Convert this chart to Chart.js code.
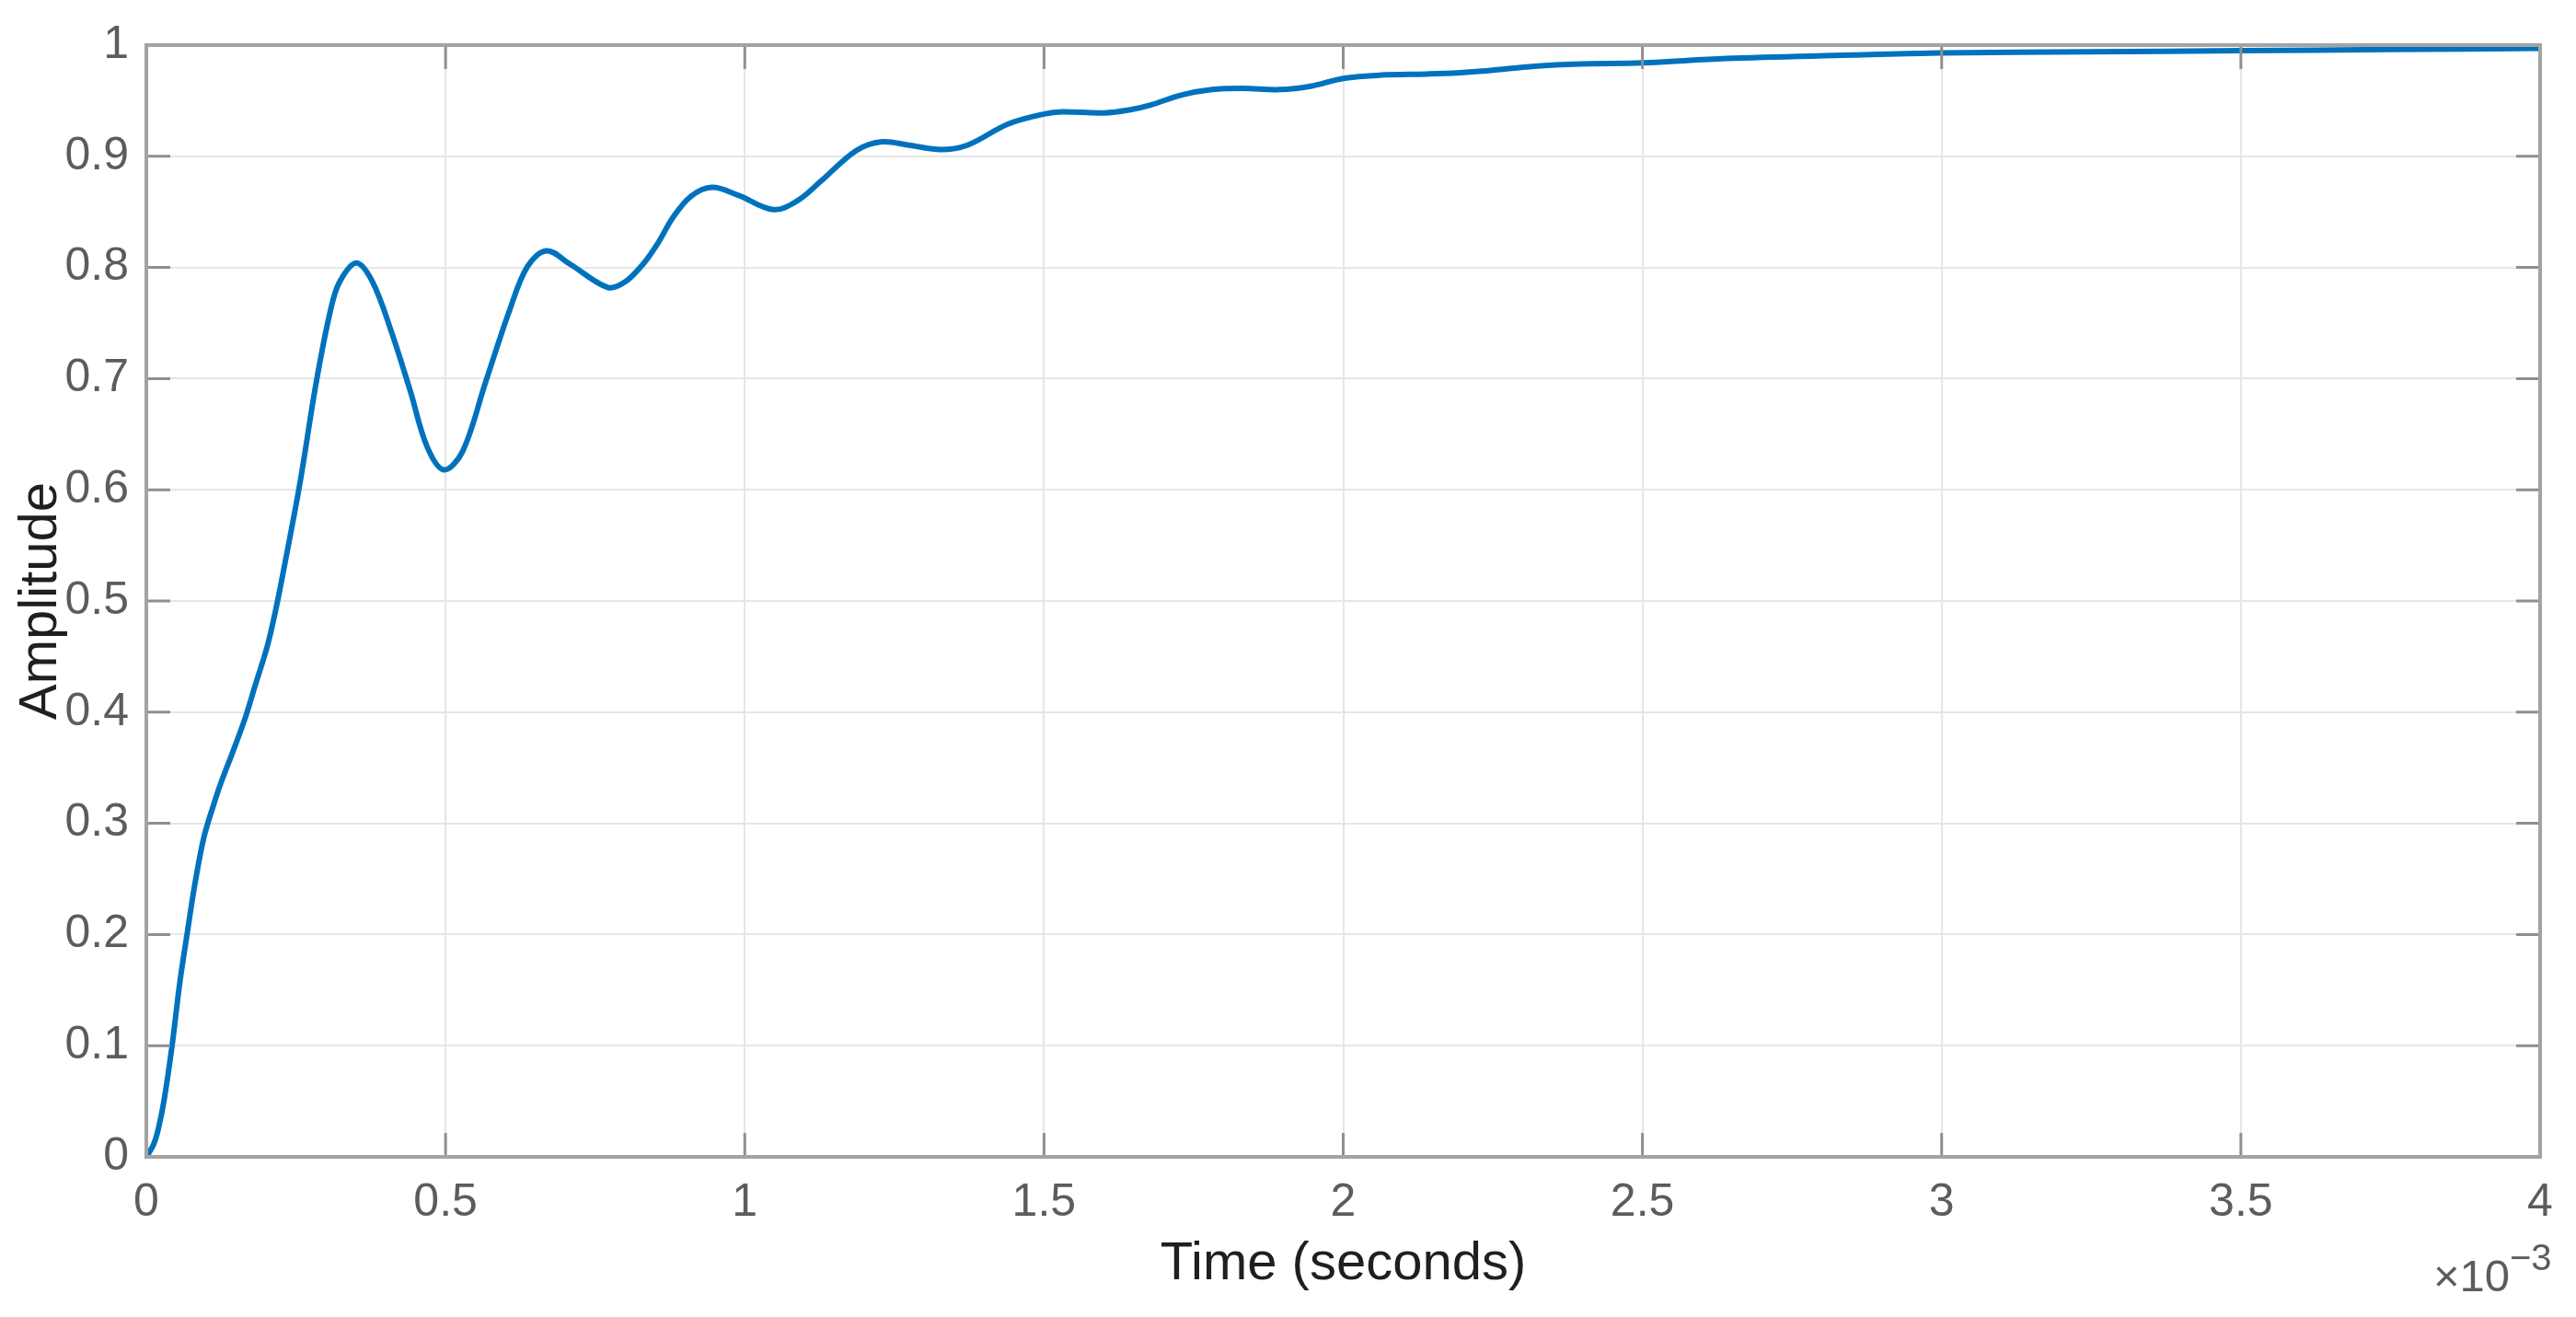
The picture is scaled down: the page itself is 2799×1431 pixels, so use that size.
<!DOCTYPE html>
<html>
<head>
<meta charset="utf-8">
<script src="https://cdn.jsdelivr.net/npm/chart.js@4.4.1/dist/chart.umd.min.js"></script>
<style>
  html, body { margin: 0; padding: 0; background: #fff; }
  #wrap { width: 2799px; height: 1431px; position: relative; }
</style>
</head>
<body>
<div id="wrap"><canvas id="stepChart"></canvas></div>
<script>
// step response, time in units of 1e-3 s
const timeMs = [
  0, 0.012, 0.02, 0.03, 0.043, 0.056, 0.068, 0.081, 0.096, 0.112,
  0.125, 0.145, 0.166, 0.183, 0.202, 0.217, 0.232, 0.257, 0.284, 0.308,
  0.323, 0.351, 0.378, 0.409, 0.441, 0.469, 0.497, 0.528, 0.567, 0.606,
  0.637, 0.669, 0.708, 0.771, 0.8, 0.83, 0.855, 0.88, 0.91, 0.945, 0.989,
  1.048, 1.088, 1.126, 1.186, 1.229, 1.274, 1.328, 1.372, 1.44, 1.5,
  1.53, 1.6, 1.646, 1.678, 1.729, 1.781, 1.832, 1.894, 1.945, 2.0,
  2.063, 2.14, 2.19, 2.243, 2.32, 2.397, 2.5, 2.64, 2.85, 3.0,
  3.25, 3.5, 3.75, 4.0
];
const amplitude = [
  0, 0.011, 0.025, 0.052, 0.1, 0.157, 0.2, 0.245, 0.287, 0.316,
  0.337, 0.365, 0.396, 0.426, 0.459, 0.494, 0.535, 0.607, 0.697, 0.762,
  0.787, 0.804, 0.787, 0.743, 0.689, 0.639, 0.618, 0.634, 0.697, 0.76,
  0.801, 0.815, 0.803, 0.782, 0.787, 0.803, 0.822, 0.845, 0.864, 0.872, 0.865,
  0.852, 0.86, 0.877, 0.905, 0.913, 0.91, 0.906, 0.91, 0.929, 0.938,
  0.94, 0.939, 0.942, 0.946, 0.955, 0.96, 0.961, 0.96, 0.963, 0.97,
  0.973, 0.974, 0.975, 0.977, 0.981, 0.983, 0.984, 0.988, 0.991, 0.993,
  0.994, 0.995, 0.996, 0.997
];
const xTicks = [0, 0.5, 1, 1.5, 2, 2.5, 3, 3.5, 4];
const yTicks = [0, 0.1, 0.2, 0.3, 0.4, 0.5, 0.6, 0.7, 0.8, 0.9, 1];

const FONT = "'Liberation Sans', Arial, Helvetica, sans-serif";
const TICK_COLOR = '#5c5c5c';
const LABEL_COLOR = '#1f1f1f';

// MATLAB style box, inward ticks on all four sides, and the x10^-3 exponent
const matlabAxes = {
  id: 'matlabAxes',
  afterDatasetsDraw(chart) {
    const { ctx, chartArea: a, scales: { x, y } } = chart;
    const len = 26;
    ctx.save();
    ctx.strokeStyle = '#8f8f8f';
    ctx.lineWidth = 3;
    ctx.beginPath();
    xTicks.forEach(v => {
      const px = x.getPixelForValue(v);
      ctx.moveTo(px, a.bottom); ctx.lineTo(px, a.bottom - len);
      ctx.moveTo(px, a.top); ctx.lineTo(px, a.top + len);
    });
    yTicks.forEach(v => {
      const py = y.getPixelForValue(v);
      ctx.moveTo(a.left, py); ctx.lineTo(a.left + len, py);
      ctx.moveTo(a.right, py); ctx.lineTo(a.right - len, py);
    });
    ctx.stroke();

    ctx.strokeStyle = '#a3a3a3';
    ctx.lineWidth = 4;
    ctx.strokeRect(a.left, a.top, a.right - a.left, a.bottom - a.top);

    // exponent label under the right end of the x axis
    ctx.fillStyle = TICK_COLOR;
    ctx.textBaseline = 'alphabetic';
    ctx.font = '49px ' + FONT;
    ctx.textAlign = 'right';
    ctx.fillText('\u00d710', a.right - 33, a.bottom + 146);
    ctx.font = '40px ' + FONT;
    ctx.textAlign = 'left';
    ctx.fillText('\u22123', a.right - 33, a.bottom + 123);
    ctx.restore();
  }
};

new Chart(document.getElementById('stepChart').getContext('2d'), {
  type: 'line',
  data: {
    datasets: [{
      label: 'Step response',
      data: timeMs.map((t, i) => ({ x: t, y: amplitude[i] })),
      borderColor: '#0072BD',
      borderWidth: 6,
      pointRadius: 0,
      fill: false,
      tension: 0.35
    }]
  },
  options: {
    responsive: true,
    maintainAspectRatio: false,
    animation: false,
    layout: { padding: { left: 0, top: 37, right: 39, bottom: 0 } },
    plugins: { legend: { display: false }, tooltip: { enabled: false } },
    scales: {
      x: {
        type: 'linear',
        min: 0,
        max: 4,
        afterBuildTicks: s => { s.ticks = xTicks.map(v => ({ value: v })); },
        afterFit: s => { s.height = 174; },
        grid: { color: '#e6e6e6', lineWidth: 2, drawTicks: false },
        border: { display: false },
        ticks: {
          padding: 20,
          color: TICK_COLOR,
          font: { family: FONT, size: 50 },
          maxRotation: 0,
          callback: v => String(v)
        },
        title: {
          display: true,
          text: 'Time (seconds)',
          color: LABEL_COLOR,
          font: { family: FONT, size: 58 },
          padding: { top: 0, bottom: 22 }
        }
      },
      y: {
        type: 'linear',
        min: 0,
        max: 1,
        afterBuildTicks: s => { s.ticks = yTicks.map(v => ({ value: v })); },
        afterFit: s => { s.width = 159; },
        grid: { color: '#e6e6e6', lineWidth: 2, drawTicks: false },
        border: { display: false },
        ticks: {
          padding: 19,
          color: TICK_COLOR,
          font: { family: FONT, size: 50 },
          callback: v => String(Math.round(v * 10) / 10)
        },
        title: {
          display: true,
          text: 'Amplitude',
          color: LABEL_COLOR,
          font: { family: FONT, size: 58 },
          padding: { top: 10, bottom: 0 }
        }
      }
    }
  },
  plugins: [matlabAxes]
});
</script>
</body>
</html>
